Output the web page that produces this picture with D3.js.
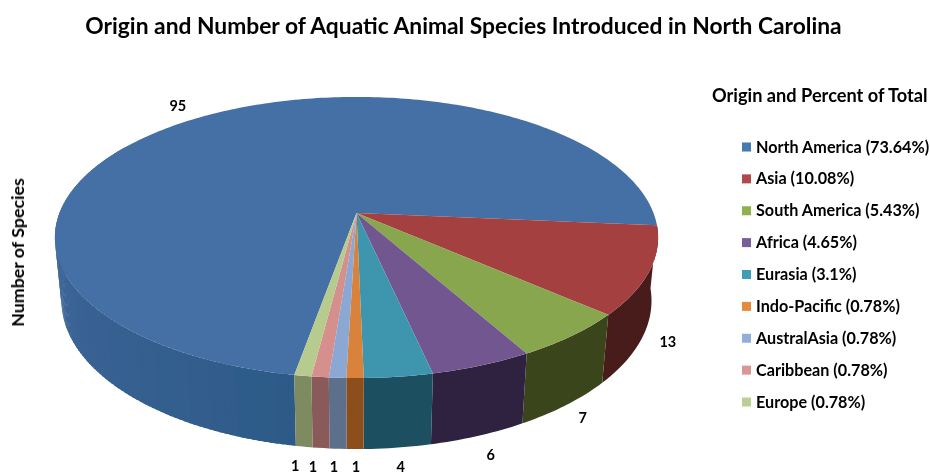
<!DOCTYPE html>
<html><head><meta charset="utf-8">
<script src="https://cdn.jsdelivr.net/npm/d3@7"></script>
<style>html,body{margin:0;padding:0;background:#fff}svg{display:block}text{font-family:Lato,"Open Sans",sans-serif;font-weight:700;fill:#000}</style>
</head><body><svg id="c" width="930" height="475"></svg>
<script>
const categories=["North America","Asia","South America","Africa","Eurasia","Indo-Pacific","AustralAsia","Caribbean","Europe"];
const species=[95,13,7,6,4,1,1,1,1];
const percents=["73.64","10.08","5.43","4.65","3.1","0.78","0.78","0.78","0.78"];
const topColors=["#4470a5","#a5403f","#88a64d","#72578f","#3d96ae","#d9823a","#8ba8d4","#d58f8d","#b6cb8d"];
const wallColors=["#315d8c","#4a1a1a","#3a451c","#2f2440","#1f5060","#8c4f1e","#5c6f8c","#8a5a5a","#7e8a60"];
const legendColors=["#4479b0","#b04a48","#8fb04f","#7a5c9a","#3f9db5","#e58a3a","#93aedb","#d99694","#bcd096"];
const labelOffsets=[[-23,-69],[25,6],[16,13],[12,19],[3,19],[1,18],[-4,18],[-8,19],[-9,19]];

const svg=d3.select("#c");
const defs=svg.append("defs");
defs.append("filter").attr("id","soft").append("feGaussianBlur").attr("stdDeviation",0.4);
const root=svg.append("g").attr("filter","url(#soft)");

// Perspective projection of the pie disc
const cx=356.5,cy=213,R=297,S=136.3,k=0.174,D=63.8,m=0.0217;
function proj(a,depth){
  const u=Math.sin(a),v=-Math.cos(a),w=1-k*v+(depth?m:0);
  return [cx+R*u/w,cy+(S*v+(depth?D:0))/w];
}
const rad=d=>d*Math.PI/180;
const start=rad(190);
const arcs=d3.pie().sort(null).startAngle(start).endAngle(start+2*Math.PI)(species);
const line=d3.line();
const step=rad(1);
const anglesOf=d=>d3.range(d.startAngle,d.endAngle,step).concat([d.endAngle]);

// side walls
const pieG=root.append("g");
arcs.forEach((d,i)=>{
  if(i!==0) return;
  // shaded strips on the big slice so the wall lightens toward the left
  const shade=d3.scaleLinear().domain([rad(190),rad(270)]).range(["#2d5a88","#41699b"]).clamp(true);
  d3.pairs(anglesOf(d)).forEach(([a,b])=>{
    if(a>rad(300)) return;
    pieG.append("path").attr("d",line([proj(a,0),proj(b+step/2,0),proj(b+step/2,1),proj(a,1)])+"Z")
      .attr("fill",shade(a));
  });
});
arcs.forEach((d,i)=>{
  if(i===0) return;
  const as=anglesOf(d);
  const pts=as.map(a=>proj(a,0)).concat(as.slice().reverse().map(a=>proj(a,1)));
  pieG.append("path").attr("d",line(pts)+"Z").attr("fill",wallColors[i]);
});
// top faces
arcs.forEach((d,i)=>{
  const pts=[[cx,cy]].concat(anglesOf(d).map(a=>proj(a,0)));
  pieG.append("path").attr("d",line(pts)+"Z").attr("fill",topColors[i]);
});

// value labels
arcs.forEach((d,i)=>{
  const p=proj((d.startAngle+d.endAngle)/2,1);
  root.append("text").attr("x",p[0]+labelOffsets[i][0]).attr("y",p[1]+labelOffsets[i][1]+5)
    .attr("text-anchor","middle").attr("font-size",14.5).text(species[i]);
});

// titles
root.append("text").attr("x",463.5).attr("y",34).attr("text-anchor","middle").attr("font-size",22.8).text("Origin and Number of Aquatic Animal Species Introduced in North Carolina");
root.append("text").attr("transform","translate(24,252.5) rotate(-90)").attr("text-anchor","middle").attr("font-size",17.8).text("Number of Species");
root.append("text").attr("x",712).attr("y",102).attr("font-size",18.2).text("Origin and Percent of Total");

// legend
const legendY=d3.scaleLinear().domain([0,8]).range([147,402]);
categories.forEach((c,i)=>{
  const y=legendY(i);
  root.append("rect").attr("x",742).attr("y",y-4.5).attr("width",9).attr("height",9).attr("fill",legendColors[i]);
  root.append("text").attr("x",756).attr("y",y+5.5).attr("font-size",16.2).text(`${c} (${percents[i]}%)`);
});
</script></body></html>
